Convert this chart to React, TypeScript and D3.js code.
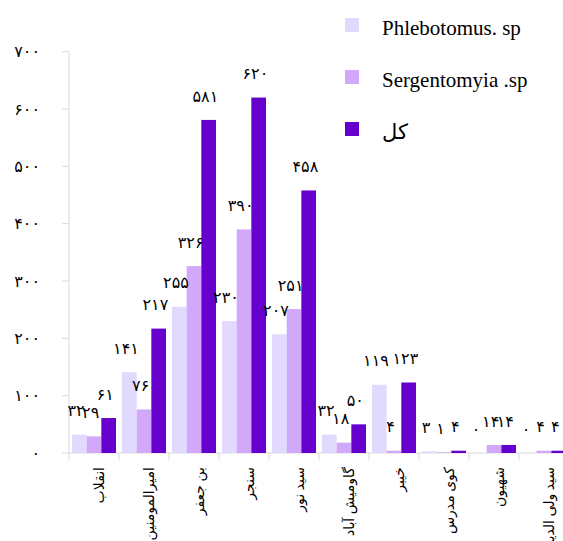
import React from "react";
import * as d3 from "d3";

const categories = [
  "انقلاب",
  "امیرالمومنین",
  "بن جعفر",
  "سنجر",
  "سید نور",
  "گاومیش آباد",
  "خیبر",
  "کوی مدرس",
  "شهیون",
  "سید ولی الدین",
];
const seriesNames = ["Phlebotomus. sp", "Sergentomyia .sp", "کل"];
const phlebotomus = [32, 141, 255, 230, 207, 32, 119, 3, 0, 0];
const sergentomyia = [29, 76, 326, 390, 251, 18, 4, 1, 14, 4];
const total = [61, 217, 581, 620, 458, 50, 123, 4, 14, 4];
const yTicks = [0, 100, 200, 300, 400, 500, 600, 700];
const colors = ["#e2dafe", "#d1a8fa", "#6600cc"];

const toFa = (n: number) =>
  String(n).replace(/[0-9]/g, (d) => "۰۱۲۳۴۵۶۷۸۹"[+d]);

const W = 563;
const H = 541;
const FONT = "'Liberation Serif', 'Times New Roman', 'DejaVu Sans', serif";

export default function App() {
  const series = [phlebotomus, sergentomyia, total];
  const x0 = d3.scaleBand<string>().domain(categories).range([69, 569]).padding(0);
  const x1 = d3
    .scaleBand<number>()
    .domain([0, 1, 2])
    .range([3, x0.bandwidth() - 3])
    .padding(0);
  const y = d3.scaleLinear().domain([0, 700]).range([453, 51.7]);
  const axisColor = "#d9d9d9";

  return (
    <svg
      width={W}
      height={H}
      style={{ position: "absolute", left: 0, top: 0, background: "#fff" }}
      fontFamily={FONT}
    >
      {/* y axis */}
      <line x1={69} x2={69} y1={y(700)} y2={y(0)} stroke={axisColor} strokeWidth={1} />
      {yTicks.map((t) => (
        <g key={t}>
          <line x1={62} x2={69} y1={y(t)} y2={y(t)} stroke={axisColor} />
          <text
            x={40}
            y={y(t)}
            dy="0.35em"
            textAnchor="end"
            fontSize={16}
            fill="#000"
            direction="ltr"
          >
            {toFa(t)}
          </text>
        </g>
      ))}
      {/* x axis */}
      <line x1={69} x2={569} y1={y(0)} y2={y(0)} stroke={axisColor} />
      {categories.map((c) => (
        <line
          key={"t" + c}
          x1={x0(c)!}
          x2={x0(c)!}
          y1={y(0)}
          y2={y(0) + 7}
          stroke={axisColor}
        />
      ))}
      {/* bars */}
      {series.map((vals, si) =>
        categories.map((c, ci) => {
          const bx = x0(c)! + x1(si)!;
          const by = y(vals[ci]);
          return (
            <rect
              key={`b${si}-${ci}`}
              x={bx}
              y={by}
              width={x1.bandwidth()}
              height={y(0) - by}
              fill={colors[si]}
            />
          );
        })
      )}
      {/* data labels */}
      {series.map((vals, si) =>
        categories.map((c, ci) => {
          const bx = x0(c)! + x1(si)!;
          const by = y(vals[ci]);
          return (
            <text
              key={`l${si}-${ci}`}
              x={bx + 4}
              y={by - 24}
              dy="0.35em"
              textAnchor="middle"
              fontSize={16}
              fill="#000"
              direction="ltr"
            >
              {toFa(vals[ci])}
            </text>
          );
        })
      )}
      {/* category labels */}
      {categories.map((c) => {
        const cx = x0(c)! + x0.bandwidth() / 2 + 5;
        return (
          <text
            key={"c" + c}
            transform={`translate(${cx},467) rotate(-90)`}
            textAnchor="end"
            dy="0.35em"
            fontSize={14}
            fill="#000"
          >
            {c}
          </text>
        );
      })}
      {/* legend */}
      {seriesNames.map((n, i) => (
        <g key={"lg" + i} transform={`translate(345,${18 + i * 52})`}>
          <rect x={0} y={0} width={14} height={14} fill={colors[i]} />
          <text x={37} y={10} dy="0.35em" fontSize={21} fill="#000">
            {n}
          </text>
        </g>
      ))}
    </svg>
  );
}
